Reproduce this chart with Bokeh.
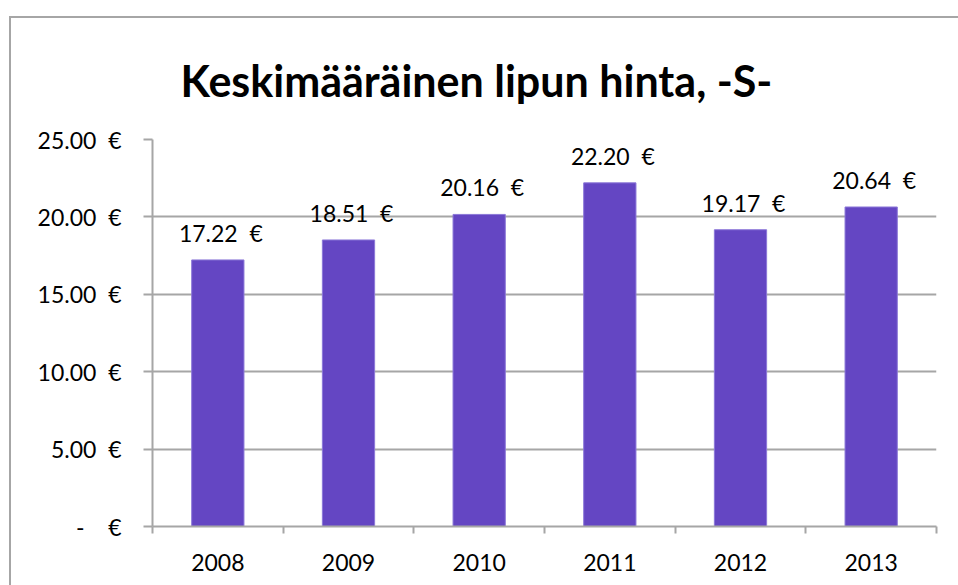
from bokeh.plotting import figure
from bokeh.models import Range1d, FixedTicker, Title, ColumnDataSource, GlobalInlineStyleSheet
from bokeh.core.properties import value
from bokeh.embed import file_html
from bokeh.resources import INLINE

years = ["2008", "2009", "2010", "2011", "2012", "2013"]
prices = [17.22, 18.51, 20.16, 22.20, 19.17, 20.64]
y_ticks = [0, 5, 10, 15, 20, 25]
y_tick_labels = ["-\u00a0\u00a0\u00a0\u00a0€", "5.00\u00a0\u00a0€", "10.00\u00a0\u00a0€",
                 "15.00\u00a0\u00a0€", "20.00\u00a0\u00a0€", "25.00\u00a0\u00a0€"]
title_text = "Keskimääräinen lipun hinta, -S-"

FONT = "Lato"
GRID = "#A6A6A6"
BAR = "#6446C3"
FS = "23px"

xs = [i + 0.5 for i in range(len(years))]
labels = ["%.2f\u00a0\u00a0€" % v for v in prices]
src = ColumnDataSource(dict(x=xs, top=prices, label=labels))

p = figure(width=960, height=580, output_backend="svg", toolbar_location=None,
           x_range=Range1d(0, len(years)), y_range=Range1d(0, 25),
           min_border_left=141, min_border_right=35, min_border_top=121, min_border_bottom=72)
p.title = Title(text=title_text, align="left", offset=28, standoff=67,
                text_font=FONT, text_font_style="bold", text_font_size="43px",
                text_color="#000000")
p.outline_line_color = None
p.background_fill_color = "white"
p.border_fill_color = "white"
p.styles = {"border-left": "2px solid #A6A6A6", "border-top": "2px solid #A6A6A6"}
p.margin = (16, 0, 0, 9)
p.stylesheets = [GlobalInlineStyleSheet(css="html, body { overflow: hidden; }")]

p.vbar(x="x", top="top", width=0.4, bottom=0, source=src, fill_color=BAR,
       line_color="#8C78D8", line_width=1)

p.text(x="x", y="top", text="label", source=src, text_font=value(FONT),
       text_font_size=FS, text_align="center", text_baseline="middle",
       y_offset=-27, x_offset=3, text_color="#000000")

# axes
xa = p.xaxis[0]
xa.ticker = FixedTicker(ticks=xs, minor_ticks=list(range(len(years) + 1)))
xa.major_label_overrides = {x: y for x, y in zip(xs, years)}
xa.major_tick_out = 0
xa.major_tick_in = 0
xa.minor_tick_out = 7
xa.minor_tick_in = 0
xa.minor_tick_line_color = GRID
xa.minor_tick_line_width = 2
xa.axis_line_color = GRID
xa.axis_line_width = 2
xa.major_label_text_font = FONT
xa.major_label_text_font_size = FS
xa.major_label_text_color = "#000000"
xa.major_label_standoff = 20

ya = p.yaxis[0]
ya.ticker = FixedTicker(ticks=y_ticks, minor_ticks=[])
ya.major_label_overrides = {t: s for t, s in zip(y_ticks, y_tick_labels)}
ya.major_tick_out = 9
ya.major_tick_in = 0
ya.major_tick_line_color = GRID
ya.major_tick_line_width = 2
ya.axis_line_color = GRID
ya.axis_line_width = 2
ya.major_label_text_font = FONT
ya.major_label_text_font_size = FS
ya.major_label_text_color = "#000000"
ya.major_label_standoff = 22

p.xgrid.visible = False
p.ygrid.ticker = FixedTicker(ticks=y_ticks)
p.ygrid.grid_line_color = GRID
p.ygrid.grid_line_width = 2

open("out.html", "w").write(file_html(p, INLINE))
